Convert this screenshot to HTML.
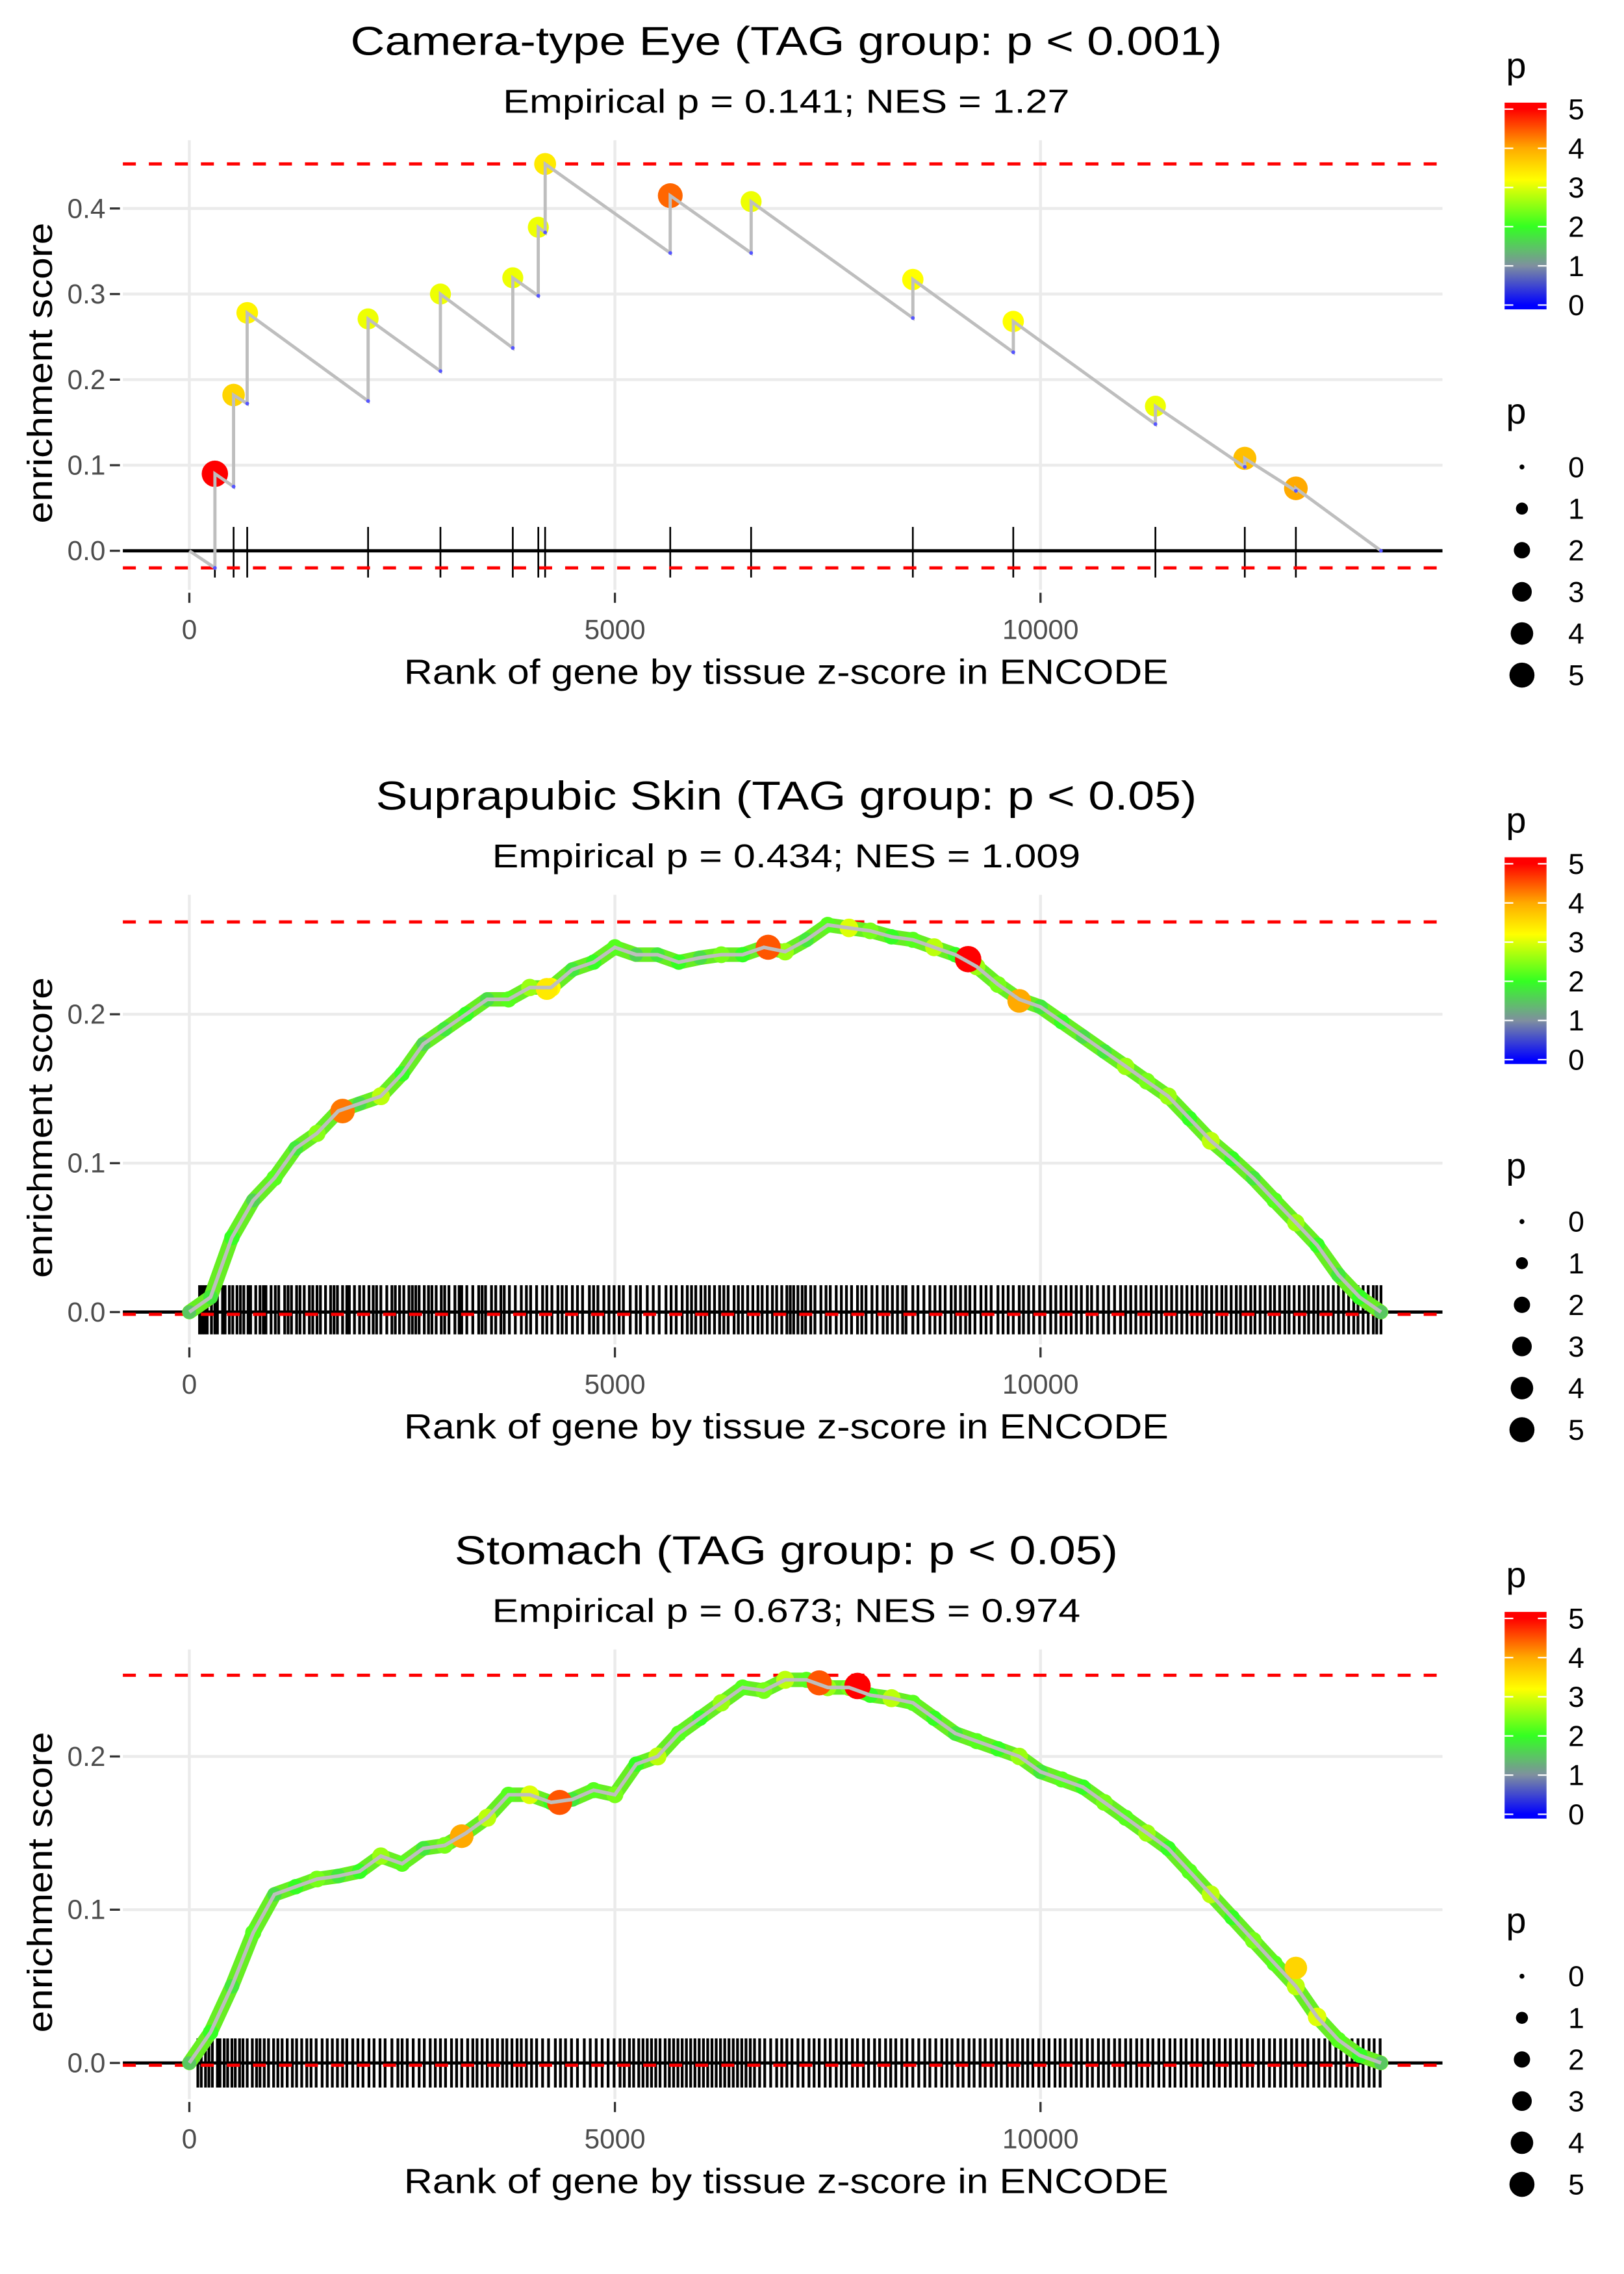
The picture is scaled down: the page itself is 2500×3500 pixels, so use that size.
<!DOCTYPE html>
<html><head><meta charset="utf-8"><title>Enrichment plots</title>
<style>
html,body{margin:0;padding:0;background:#fff;}
svg{display:block;font-family:"Liberation Sans",sans-serif;}
</style></head>
<body>
<svg id="chart" xmlns="http://www.w3.org/2000/svg" width="2500" height="3500" viewBox="0 0 1123.6 1573" preserveAspectRatio="none"></svg>
<script>
// ---------- Panel 1 data (Camera-type Eye) ----------
const p1Ranks = [0, 300, 300, 520, 520, 680, 680, 2100, 2100, 2950, 2950, 3800, 3800, 4100, 4100, 4180, 4180, 5650, 5650, 6600, 6600, 8500, 8500, 9680, 9680, 11350, 11350, 12400, 12400, 13000, 13000, 14000];
const p1ES    = [0, -0.02, 0.09, 0.075, 0.182, 0.172, 0.278, 0.175, 0.271, 0.21, 0.30, 0.237, 0.319, 0.298, 0.378, 0.372, 0.452, 0.348, 0.415, 0.348, 0.408, 0.272, 0.317, 0.232, 0.268, 0.148, 0.169, 0.098, 0.108, 0.07, 0.073, 0];
const p1HitRanks = [300, 520, 680, 2100, 2950, 3800, 4100, 4180, 5650, 6600, 8500, 9680, 11350, 12400, 13000];
const p1HitES    = [0.09, 0.182, 0.278, 0.271, 0.30, 0.319, 0.378, 0.452, 0.415, 0.408, 0.317, 0.268, 0.169, 0.108, 0.073];
const p1HitP     = [5, 3.6, 3.3, 3.1, 3.1, 3.1, 3.1, 3.4, 4.4, 3.1, 3.2, 3.2, 3.1, 3.8, 4.0];

// ---------- Panel 2 data (Suprapubic Skin) ----------
const p2Ranks = [0,250,500,750,1000,1250,1500,1750,2000,2250,2500,2750,3000,3250,3500,3750,4000,4250,4500,4750,5000,5250,5500,5750,6000,6250,6500,6750,7000,7250,7500,7750,8000,8250,8500,8750,9000,9250,9500,9750,10000,10250,10500,10750,11000,11250,11500,11750,12000,12250,12500,12750,13000,13250,13500,13750,14000];
const p2ES = [0,0.01,0.05,0.075,0.09,0.11,0.12,0.135,0.14,0.145,0.16,0.18,0.19,0.20,0.21,0.21,0.218,0.218,0.23,0.235,0.245,0.24,0.24,0.235,0.238,0.24,0.24,0.245,0.242,0.25,0.26,0.258,0.256,0.252,0.25,0.245,0.24,0.232,0.22,0.21,0.205,0.195,0.185,0.175,0.165,0.155,0.145,0.13,0.115,0.103,0.09,0.075,0.06,0.045,0.025,0.01,0];
const p2P  = [1.5,1.8,2,1.6,2.2,1.8,2.5,2,1.7,2.8,2,1.6,1.8,2,1.7,2.2,2.6,3.2,1.8,2,2.2,1.6,1.8,2,1.7,2.4,2,2.2,2.6,1.8,2.2,3,2.4,2,2.2,2.8,2,2.6,2.4,2.2,1.8,2,1.7,1.8,2.6,2.4,2.6,2,2.8,2,1.8,2.2,2.6,2,1.8,2,1.5];
const p2HighRanks = [1800, 4200, 6800, 9150, 9750];
const p2HighES    = [0.135, 0.217, 0.245, 0.237, 0.209];
const p2HighP     = [4.3, 3.4, 4.5, 5, 4];
const p2Rug = [120,150,180,210,260,300,330,390,420,470,510,560,600,640,690,720,780,830,870,900,960,1010,1050,1120,1160,1200,1260,1300,1350,1410,1450,1500,1540,1600,1660,1700,1740,1800,1850,1880,1940,2000,2050,2110,2160,2200,2250,2320,2380,2420,2470,2520,2580,2620,2660,2700,2760,2810,2850,2900,2960,3000,3050,3120,3170,3200,3260,3330,3400,3440,3480,3550,3600,3660,3700,3760,3830,3900,3960,4010,4080,4150,4200,4260,4330,4380,4430,4500,4560,4620,4700,4750,4800,4870,4930,4990,5050,5100,5180,5250,5300,5380,5450,5520,5600,5660,5720,5790,5850,5900,5950,6010,6060,6110,6170,6230,6280,6330,6400,6450,6500,6560,6620,6680,6730,6790,6850,6900,6960,7020,7060,7100,7150,7200,7240,7300,7350,7420,7480,7530,7600,7660,7720,7780,7850,7900,7950,8020,8080,8150,8200,8260,8320,8380,8420,8500,8560,8630,8700,8760,8820,8880,8950,9000,9060,9120,9170,9230,9300,9360,9420,9500,9560,9620,9680,9750,9800,9860,9920,9990,10050,10120,10180,10240,10300,10360,10420,10480,10550,10600,10670,10740,10800,10870,10940,11000,11060,11120,11180,11240,11300,11360,11420,11480,11540,11600,11660,11720,11780,11840,11900,11950,12010,12070,12130,12180,12240,12300,12350,12410,12470,12520,12580,12640,12700,12750,12810,12870,12920,12980,13040,13100,13150,13210,13260,13320,13380,13440,13500,13560,13620,13680,13730,13790,13850,13910,13950,14000];

// ---------- Panel 3 data (Stomach) ----------
const p3Ranks = [0,250,500,750,1000,1250,1500,1750,2000,2250,2500,2750,3000,3250,3500,3750,4000,4250,4500,4750,5000,5250,5500,5750,6000,6250,6500,6750,7000,7250,7500,7750,8000,8250,8500,8750,9000,9250,9500,9750,10000,10250,10500,10750,11000,11250,11500,11750,12000,12250,12500,12750,13000,13250,13500,13750,14000];
const p3ES = [0,0.02,0.05,0.085,0.11,0.115,0.12,0.122,0.125,0.135,0.13,0.14,0.142,0.15,0.16,0.175,0.175,0.17,0.172,0.178,0.175,0.195,0.20,0.215,0.225,0.235,0.245,0.243,0.25,0.25,0.245,0.245,0.24,0.238,0.235,0.225,0.215,0.21,0.205,0.20,0.19,0.185,0.18,0.17,0.16,0.15,0.14,0.125,0.11,0.095,0.08,0.065,0.05,0.03,0.015,0.005,0];
const p3P  = [1.5,2,1.8,2.2,1.7,2,2.4,1.8,2,2.6,2.2,1.8,2.4,2,2.8,2.2,3,2,1.8,2.2,2.4,2,2.8,2.2,2,2.6,2.2,2.4,2.8,2.2,2.6,2.4,2,2.8,2.2,2,1.8,2.2,2,2.6,1.8,2.2,2,2.4,2.2,2.6,2,2.2,2.8,2,2.4,2.2,2.8,3,2.2,2,1.5];
const p3HighRanks = [3200, 4350, 7400, 7850, 13000];
const p3HighES    = [0.148, 0.17, 0.248, 0.246, 0.062];
const p3HighP     = [4, 4.5, 4.5, 5, 3.6];
const p3Rug = [100,140,190,230,270,330,360,410,450,500,540,590,630,680,740,790,830,880,930,990,1040,1090,1150,1210,1260,1320,1380,1430,1490,1560,1620,1680,1740,1800,1850,1920,1980,2040,2110,2170,2240,2300,2380,2450,2500,2560,2630,2700,2760,2830,2890,2950,3010,3080,3140,3200,3270,3330,3380,3440,3500,3560,3620,3680,3730,3790,3850,3900,3960,4020,4080,4150,4220,4300,4360,4420,4490,4560,4640,4710,4780,4850,4920,4990,5060,5110,5170,5220,5280,5330,5380,5430,5480,5530,5590,5640,5690,5740,5790,5840,5890,5940,5990,6040,6090,6140,6190,6240,6290,6340,6390,6440,6490,6540,6590,6640,6700,6760,6830,6900,6960,7020,7080,7150,7210,7280,7340,7400,7470,7530,7600,7660,7720,7790,7850,7920,7980,8050,8110,8180,8240,8300,8370,8430,8500,8570,8640,8700,8770,8840,8900,8960,9030,9090,9160,9220,9290,9350,9420,9480,9540,9610,9670,9730,9790,9850,9910,9980,10040,10100,10170,10230,10290,10360,10420,10480,10550,10610,10680,10740,10800,10870,10930,11000,11060,11130,11190,11260,11320,11390,11450,11520,11580,11650,11710,11780,11840,11910,11970,12040,12100,12170,12230,12300,12360,12430,12490,12560,12620,12690,12750,12820,12880,12950,13010,13080,13140,13210,13270,13340,13400,13470,13530,13600,13660,13730,13790,13860,13920,13990];

const xTickVals = [0, 5000, 10000];
const xTickLabels = ["0", "5000", "10000"];
const p1YTicks = [0, 0.1, 0.2, 0.3, 0.4];
const p23YTicks = [0, 0.1, 0.2];
const legendVals = [0, 1, 2, 3, 4, 5];

const NS = "http://www.w3.org/2000/svg";
const svg = document.getElementById('chart');
function mk(tag, attrs, parent, text) {
  const e = document.createElementNS(NS, tag);
  for (const k in attrs) e.setAttribute(k, attrs[k]);
  if (text !== undefined) e.textContent = text;
  (parent || svg).appendChild(e);
  return e;
}
const xS = r => 131 + r * 0.05889;
function hex(c){return [parseInt(c.slice(1,3),16),parseInt(c.slice(3,5),16),parseInt(c.slice(5,7),16)];}
const stops = [[0,'#0000ff'],[1,'#7f8f9f'],[2,'#33ff22'],[3.2,'#ffff00'],[4,'#ffaa00'],[5,'#ff0000']];
function pColor(p){
  p = Math.max(0, Math.min(5, p));
  for (let i=0;i<stops.length-1;i++){
    if (p <= stops[i+1][0]) {
      const t=(p-stops[i][0])/(stops[i+1][0]-stops[i][0]);
      const a=hex(stops[i][1]), b=hex(stops[i+1][1]);
      return 'rgb('+a.map((v,j)=>Math.round(v+(b[j]-v)*t)).join(',')+')';
    }
  }
  return '#ff0000';
}
const pRad = p => Math.sqrt(3.2 + 16 * p);

function panel(cfg) {
  const g = mk('g', {});
  
  
  const yS = v => cfg.y0 - v * cfg.k;
  const L = 85, R = 998;
  const t = mk('text', {x: 544, y: cfg.top + 38, 'text-anchor': 'middle', 'font-size': 28, textLength: cfg.titleLen, lengthAdjust: 'spacingAndGlyphs', fill: '#000'}, g, cfg.title);
  
  
  const st = mk('text', {x: 544, y: cfg.top + 78, 'text-anchor': 'middle', 'font-size': 23, textLength: cfg.subLen, lengthAdjust: 'spacingAndGlyphs', fill: '#000'}, g, cfg.subtitle);
  
  
  cfg.yTicks.forEach(v => {
    const gl = mk('line', {x1: L, x2: R, y1: yS(v), y2: yS(v), stroke: '#ebebeb', 'stroke-width': 2}, g);
    
    
    const tm = mk('line', {x1: 76, x2: 83, y1: yS(v), y2: yS(v), stroke: '#333', 'stroke-width': 1.5}, g);
    
    
    const tl = mk('text', {x: 73, y: yS(v) + 6.5, 'text-anchor': 'end', 'font-size': 19, fill: '#4d4d4d'}, g, v.toFixed(1));
    
    
  });
  xTickVals.forEach((v, i) => {
    const gl = mk('line', {x1: xS(v), x2: xS(v), y1: cfg.top + 97, y2: cfg.top + 408, stroke: '#ebebeb', 'stroke-width': 2}, g);
    
    
    const tm = mk('line', {x1: xS(v), x2: xS(v), y1: cfg.top + 410, y2: cfg.top + 417, stroke: '#333', 'stroke-width': 1.5}, g);
    
    
    const tl = mk('text', {x: xS(v), y: cfg.top + 442, 'text-anchor': 'middle', 'font-size': 19, fill: '#4d4d4d'}, g, xTickLabels[i]);
    
    
  });
  const xt = mk('text', {x: 544, y: cfg.top + 473, 'text-anchor': 'middle', 'font-size': 24, textLength: 529, lengthAdjust: 'spacingAndGlyphs', fill: '#000'}, g, 'Rank of gene by tissue z-score in ENCODE');
  
  
  const ycy = cfg.top + 258;
  const yt = mk('text', {x: 0, y: 0, 'text-anchor': 'middle', 'font-size': 24, textLength: 208, lengthAdjust: 'spacingAndGlyphs', fill: '#000', transform: 'translate(36,' + ycy + ') rotate(-90)'}, g, 'enrichment score');
  
  
  cfg.rug.forEach(r => {
    const l = mk('line', {x1: xS(r), x2: xS(r), y1: cfg.rugTop, y2: cfg.rugBot, stroke: '#000', 'stroke-width': cfg.rugW}, g);
    
    
  });
  const zl = mk('line', {x1: L, x2: R, y1: yS(0), y2: yS(0), stroke: '#000', 'stroke-width': 2.2}, g);
  
  
  cfg.dash.forEach(v => {
    const d = mk('line', {x1: L, x2: R, y1: yS(v), y2: yS(v), stroke: '#ff0000', 'stroke-width': 2.2, 'stroke-dasharray': '9,9'}, g);
    
    
  });
  const pts = cfg.ranks.map((r, i) => xS(r).toFixed(1) + ',' + yS(cfg.es[i]).toFixed(1)).join(' ');
  if (cfg.band) {
    const b = mk('polyline', {points: pts, fill: 'none', stroke: '#66ee22', 'stroke-width': 10, 'stroke-linejoin': 'round', 'stroke-linecap': 'round'}, g);
    
    
    cfg.ranks.forEach((r, i) => {
      const c = mk('circle', {cx: xS(r), cy: yS(cfg.es[i]), r: pRad(cfg.p[i]) * 0.9, fill: pColor(cfg.p[i])}, g);
      
      
    });
    cfg.hr.forEach((r, i) => {
      const c = mk('circle', {cx: xS(r), cy: yS(cfg.he[i]), r: pRad(cfg.hp[i]), fill: pColor(cfg.hp[i])}, g);
      
      
    });
    const ln = mk('polyline', {points: pts, fill: 'none', stroke: '#bebebe', 'stroke-width': 2.5}, g);
    
    
  } else {
    cfg.hr.forEach((r, i) => {
      const c = mk('circle', {cx: xS(r), cy: yS(cfg.he[i]), r: pRad(cfg.hp[i]), fill: pColor(cfg.hp[i])}, g);
      
      
    });
    const ln = mk('polyline', {points: pts, fill: 'none', stroke: '#bebebe', 'stroke-width': 2.2}, g);
    
    
    cfg.ranks.forEach((r, i) => {
      if (i % 2 === 1 || i === cfg.ranks.length - 1) {
        const c = mk('circle', {cx: xS(r), cy: yS(cfg.es[i]), r: 1.3, fill: '#5555ff'}, g);
        
        
      }
    });
  }
  const lt = cfg.top;
  const lg = mk('g', {}, g);
  
  
  mk('text', {x: 1042, y: lt + 54, 'font-size': 25, fill: '#000'}, lg, 'p');
  const gid = 'grad' + cfg.idx;
  const defs = mk('defs', {}, lg);
  const grad = mk('linearGradient', {id: gid, x1: 0, y1: 1, x2: 0, y2: 0}, defs);
  for (let s = 0; s <= 50; s++) {
    const v = s / 10;
    mk('stop', {offset: ((v * 27.1 + 3) / 143).toFixed(3), 'stop-color': pColor(v)}, grad);
  }
  mk('rect', {x: 1041, y: lt + 71, width: 29, height: 143, fill: 'url(#' + gid + ')'}, lg);
  legendVals.forEach(v => {
    const yy = lt + 211 - v * 27.1;
    mk('line', {x1: 1041, x2: 1047, y1: yy, y2: yy, stroke: '#fff', 'stroke-width': 1}, lg);
    mk('line', {x1: 1064, x2: 1070, y1: yy, y2: yy, stroke: '#fff', 'stroke-width': 1}, lg);
    mk('text', {x: 1085, y: yy + 7, 'font-size': 20, fill: '#000'}, lg, String(v));
  });
  const sg = mk('g', {}, g);
  
  
  mk('text', {x: 1042, y: lt + 293, 'font-size': 25, fill: '#000'}, sg, 'p');
  legendVals.forEach((v, i) => {
    const yy = lt + 323 + i * 28.8;
    mk('circle', {cx: 1053, cy: yy, r: pRad(v) * 0.95, fill: '#000'}, sg);
    mk('text', {x: 1085, y: yy + 7, 'font-size': 20, fill: '#000'}, sg, String(v));
  });
}

panel({idx: 1, name: 'panel-camera-type-eye', top: 0, y0: 381, k: 592, yTicks: p1YTicks,
  title: 'Camera-type Eye (TAG group: p < 0.001)', titleLen: 603,
  subtitle: 'Empirical p = 0.141; NES = 1.27', subLen: 392,
  ranks: p1Ranks, es: p1ES, hr: p1HitRanks, he: p1HitES, hp: p1HitP,
  rug: p1HitRanks, rugTop: 364.5, rugBot: 399.5, rugW: 1.2, dash: [0.452, -0.02], band: false});
panel({idx: 2, name: 'panel-suprapubic-skin', top: 522, y0: 907.6, k: 1030, yTicks: p23YTicks,
  title: 'Suprapubic Skin (TAG group: p < 0.05)', titleLen: 568,
  subtitle: 'Empirical p = 0.434; NES = 1.009', subLen: 407,
  ranks: p2Ranks, es: p2ES, p: p2P, hr: p2HighRanks, he: p2HighES, hp: p2HighP,
  rug: p2Rug, rugTop: 889, rugBot: 923, rugW: 1.9, dash: [0.262, -0.0015], band: true});
panel({idx: 3, name: 'panel-stomach', top: 1044, y0: 1427, k: 1060, yTicks: p23YTicks,
  title: 'Stomach (TAG group: p < 0.05)', titleLen: 459,
  subtitle: 'Empirical p = 0.673; NES = 0.974', subLen: 407,
  ranks: p3Ranks, es: p3ES, p: p3P, hr: p3HighRanks, he: p3HighES, hp: p3HighP,
  rug: p3Rug, rugTop: 1410, rugBot: 1444, rugW: 1.9, dash: [0.253, -0.0015], band: true});
</script>
</body></html>
